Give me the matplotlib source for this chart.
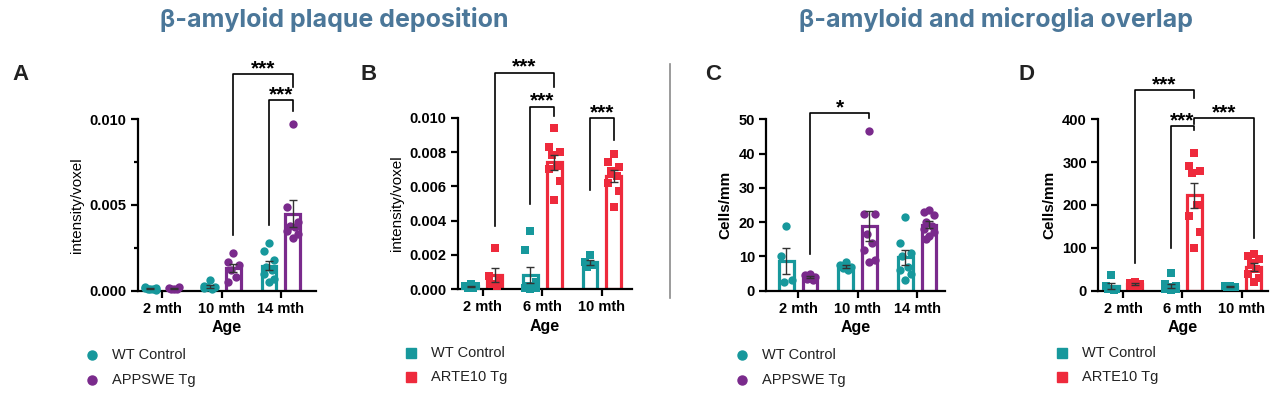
import numpy as np
import matplotlib.pyplot as plt
from matplotlib.lines import Line2D

plt.rcParams['font.family'] = ['Liberation Sans', 'DejaVu Sans']

teal = '#17989c'
purple = '#7a2a8c'
red = '#ee2a3c'
title_col = '#4b7799'

# panel A: plaque intensity, APPSWE
a_ages = ['2 mth', '10 mth', '14 mth']
a_wt = [[0.0001, 0.0002, 0.00015, 0.0001, 0.0001, 0.00015, 0.00005],
        [0.0006, 0.0003, 0.0002, 0.0002, 0.0001, 0.00015],
        [0.0028, 0.0023, 0.0018, 0.0014, 0.0012, 0.0010, 0.0007, 0.0005]]
a_tg = [[0.0001, 0.00015, 0.0002, 0.0001, 0.00012],
        [0.0022, 0.0017, 0.0015, 0.0012, 0.0008, 0.0005],
        [0.0097, 0.0049, 0.0040, 0.0038, 0.0037, 0.0035, 0.0033, 0.0031]]

# panel B: plaque intensity, ARTE10
b_ages = ['2 mth', '6 mth', '10 mth']
b_wt = [[0.0003, 0.0002, 0.0002, 0.0001, 0.0001],
        [0.0034, 0.0023, 0.0004, 0.0002, 0.0001, 0.0001, 0.0001, 0.0000],
        [0.0020, 0.0016, 0.0014, 0.0013]]
b_tg = [[0.0024, 0.0008, 0.0005, 0.0003, 0.0002],
        [0.0094, 0.0083, 0.0080, 0.0078, 0.0072, 0.0070, 0.0063, 0.0052],
        [0.0079, 0.0074, 0.0071, 0.0069, 0.0066, 0.0062, 0.0057, 0.0048]]

# panel C: overlap, APPSWE
c_ages = ['2 mth', '10 mth', '14 mth']
c_wt = [[19, 10, 3, 2.5],
        [8.5, 7.5, 7, 6.5, 6],
        [21.5, 14, 11, 10, 7, 6, 5, 3]]
c_tg = [[5, 4.5, 4, 3.5, 3],
        [46.5, 22.5, 22.5, 16.5, 14, 12, 9, 8.5],
        [23.5, 23, 22, 20, 19, 18, 17, 16, 15]]

# panel D: overlap, ARTE10
d_ages = ['2 mth', '6 mth', '10 mth']
d_wt = [[37, 10, 5, 3, 2],
        [42, 15, 10, 8, 5, 4, 3, 2],
        [12, 10, 9, 8]]
d_tg = [[20, 18, 15, 12, 10],
        [322, 290, 280, 275, 200, 175, 137, 100],
        [85, 80, 75, 65, 50, 40, 30, 20]]

# brackets: (x1, x2, y, y1 end, y2 end, label)
a_sig = [(1.2, 2.2, 0.01264, 0.00325, 0.0119, '***'),
         (1.8, 2.2, 0.01113, 0.00383, 0.01048, '***')]
b_sig = [(0.2, 1.2, 0.01262, 0.0037, 0.0118, '***'),
         (0.8, 1.2, 0.01064, 0.0050, 0.0101, '***'),
         (1.8, 2.2, 0.00998, 0.0058, 0.0087, '***')]
c_sig = [(0.2, 1.2, 51.8, 10.7, 50.4, '*')]
d_sig = [(0.2, 1.2, 468, 65, 450, '***'),
         (0.8, 1.2, 384, 100, 375, '***'),
         (1.2, 2.2, 403, 390, 123, '***')]

spread = np.array([0, -1, 1, -0.5, 0.5, -1, 1, 0, -0.5, 0.5])


def panel(rect, ages, wt, tg, tg_col, marker, ylim, yticks, ylabel, sig, xlim, minor=None):
    ax = fig.add_axes(rect)
    off, w = 0.2, 0.25
    for i in range(len(ages)):
        for vals, col, dx in [(wt[i], teal, -off), (tg[i], tg_col, off)]:
            v = np.array(vals)
            m = v.mean()
            se = v.std(ddof=1) / np.sqrt(len(v))
            ax.bar(i + dx, m, width=w, facecolor='white', edgecolor=col, linewidth=2.3, zorder=2)
            xs = i + dx + spread[:len(v)] * w * 0.36
            ax.scatter(xs, v, s=36, color=col, marker=marker, zorder=3, linewidths=0, clip_on=False)
            ax.errorbar(i + dx, m, yerr=[[se], [se]], fmt='none', ecolor='#333333',
                        elinewidth=1, capsize=3, capthick=1, zorder=4)
    ax.set_xlim(*xlim)
    ax.set_ylim(*ylim)
    ax.set_yticks(yticks)
    if minor is not None:
        ax.set_yticks(minor, minor=True)
    ax.set_xticks(range(len(ages)))
    ax.set_xticklabels(ages)
    for s in ['top', 'right']:
        ax.spines[s].set_visible(False)
    for s in ['left', 'bottom']:
        ax.spines[s].set_linewidth(1.6)
    ax.tick_params(axis='both', width=1.6, length=5, labelsize=10.5, pad=3)
    ax.tick_params(axis='y', which='minor', width=1.6, length=3)
    for t in ax.get_xticklabels() + ax.get_yticklabels():
        t.set_fontweight('bold')
    ax.set_xlabel('Age', fontsize=11.5, fontweight='bold', labelpad=3)
    ax.set_ylabel(ylabel[0], fontsize=11, fontweight=ylabel[1], labelpad=4)
    for x1, x2, y, e1, e2, lab in sig:
        ax.plot([x1, x1, x2, x2], [e1, y, y, e2], color='black', lw=1.2, clip_on=False)
        ax.annotate(lab, ((x1 + x2) / 2, y), xytext=(0, 0), textcoords='offset points',
                    ha='center', va='baseline', fontsize=15, fontweight='bold',
                    annotation_clip=False)
    return ax


fig = plt.figure(figsize=(12.8, 3.95), dpi=100)
W, H = 1280, 395


def rect(l, r, b=290.7, t=119.3):
    return [l / W, 1 - b / H, (r - l) / W, (b - t) / H]


panel(rect(137.7, 316), a_ages, a_wt, a_tg, purple, 'o', (0, 0.010), [0, 0.005, 0.010],
      ('intensity/voxel', 'normal'), a_sig, (-0.41, 2.59), minor=[0.0025, 0.0075])
panel(rect(457.7, 631.7, 289.3, 117.7), b_ages, b_wt, b_tg, red, 's', (0, 0.010),
      [0, 0.002, 0.004, 0.006, 0.008, 0.010], ('intensity/voxel', 'normal'), b_sig, (-0.42, 2.5))
panel(rect(766, 945), c_ages, c_wt, c_tg, purple, 'o', (0, 50), [0, 10, 20, 30, 40, 50],
      ('Cells/mm', 'bold'), c_sig, (-0.54, 2.47))
panel(rect(1098, 1268), d_ages, d_wt, d_tg, red, 's', (0, 400), [0, 100, 200, 300, 400],
      ('Cells/mm', 'bold'), d_sig, (-0.42, 2.44))

# panel letters
for lab, x in [('A', 12), ('B', 360), ('C', 705), ('D', 1018)]:
    fig.text(x / W, 1 - 75 / H, lab, fontsize=16, fontweight='bold', va='center', ha='left', color='#222222')

# section titles
fig.text(334 / W, 1 - 20 / H, 'β-amyloid plaque deposition', fontsize=18, fontweight='bold',
         color=title_col, ha='center', va='center', family=['Inter', 'DejaVu Sans'])
fig.text(996 / W, 1 - 20 / H, 'β-amyloid and microglia overlap', fontsize=18, fontweight='bold',
         color=title_col, ha='center', va='center', family=['Inter', 'DejaVu Sans'])

# divider
fig.add_artist(Line2D([670 / W, 670 / W], [1 - 64 / H, 1 - 298 / H], color='#8a8a8a', lw=1.2))

# legends
legs = [(92, 355, 380, 'o', purple, 'APPSWE Tg'),
        (411, 353, 377, 's', red, 'ARTE10 Tg'),
        (742, 355, 380, 'o', purple, 'APPSWE Tg'),
        (1062, 353, 377, 's', red, 'ARTE10 Tg')]
for x, y1, y2, mk, col, lab in legs:
    for y, c, t in [(y1, teal, 'WT Control'), (y2, col, lab)]:
        fig.add_artist(Line2D([x / W], [1 - y / H], marker=mk, color=c, markersize=6.5, lw=0))
        fig.text((x + 20) / W, 1 - y / H, t, fontsize=10.5, va='center', ha='left', color='#222222')

fig.savefig('out.png', dpi=100)
